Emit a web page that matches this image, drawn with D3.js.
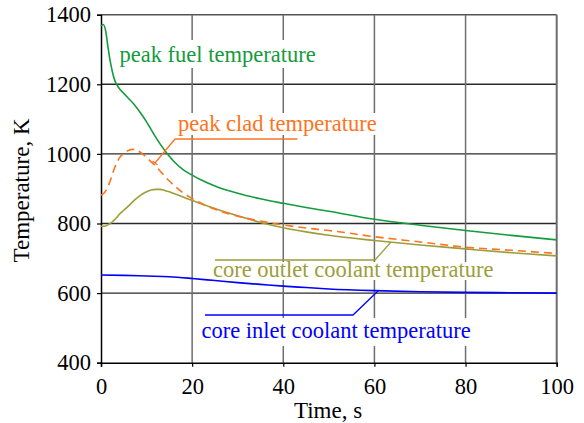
<!DOCTYPE html>
<html>
<head>
<meta charset="utf-8">
<script src="https://cdn.jsdelivr.net/npm/d3@7"></script>
<style>
  html, body { margin: 0; padding: 0; background: #fff; }
  svg { display: block; }
  svg text { font-family: 'Liberation Serif', 'Times New Roman', Times, serif !important; }
</style>
</head>
<body>
<svg id="chart" width="584" height="423"></svg>
<script>
// Transient temperatures (K) vs. time (s)
const time = [0, 0.5, 1, 1.5, 2, 2.5, 3, 3.5, 4, 5, 6, 7, 8, 9, 10, 11, 12, 13, 14, 15, 16, 18, 20, 22, 25, 30, 35, 40, 45, 50, 60, 70, 80, 90, 100];
const peakFuel = [1368, 1372, 1355, 1310, 1268, 1236, 1212, 1198, 1188, 1174, 1160, 1146, 1130, 1112, 1092, 1070, 1048, 1028, 1010, 993, 978, 955, 939, 925, 908, 887, 871, 858, 846, 835, 812, 795, 780, 766, 753];
const peakClad = [882, 885, 893, 905, 922, 942, 960, 975, 988, 1001, 1010, 1013, 1010, 1001, 990, 977, 965, 950, 936, 922, 910, 888, 872, 858, 841, 821, 807, 796, 787, 780, 762, 747, 732, 723, 714];
const coreOutlet = [792, 792, 793, 796, 800, 805, 811, 818, 826, 838, 850, 863, 874, 884, 891, 896, 898, 898, 895, 891, 886, 876, 866, 857, 843, 822, 803, 788, 776, 766, 751, 738, 727, 716, 707];
const inletTime = [0, 5, 10, 15, 20, 25, 30, 35, 40, 45, 50, 60, 70, 80, 90, 100];
const coreInlet = [652, 651, 649, 647, 642, 636, 630, 625, 620, 616, 612, 607, 604, 602, 601, 600];

const xTicks = [0, 20, 40, 60, 80, 100];
const yTicks = [400, 600, 800, 1000, 1200, 1400];

const svg = d3.select("#chart");
const plotLeft = 101, plotRight = 556.7, plotTop = 14.7, plotBottom = 362.7;
const fs = 22.5;
const serif = "'Liberation Serif', 'Times New Roman', Times, serif";

const x = d3.scaleLinear().domain([0, 100]).range([plotLeft, plotRight]);
const y = d3.scaleLinear().domain([400, 1400]).range([plotBottom, plotTop]);

// grid
const grid = svg.append("g");
grid.selectAll("line.h").data(yTicks.filter(v => v > 400)).join("line")
  .attr("class", "h")
  .attr("x1", plotLeft).attr("x2", plotRight)
  .attr("y1", d => y(d)).attr("y2", d => y(d))
  .attr("stroke", d => d === 1400 ? "#555" : "#2a2a2a").attr("stroke-width", 1.4);
grid.selectAll("line.v").data(xTicks.filter(v => v > 0)).join("line")
  .attr("class", "v")
  .attr("x1", d => x(d)).attr("x2", d => x(d))
  .attr("y1", plotTop).attr("y2", plotBottom)
  .attr("stroke", "#6e6e6e").attr("stroke-width", d => d === 100 ? 2 : 1.5);

// label boxes knock out the grid behind the text
const boxes = [
  [117, 40, 201, 28],
  [176, 113, 202, 22],
  [211, 262, 284, 18],
  [199, 318, 274, 28]
];
svg.append("g").selectAll("rect").data(boxes).join("rect")
  .attr("x", d => d[0]).attr("y", d => d[1])
  .attr("width", d => d[2]).attr("height", d => d[3])
  .attr("fill", "#fff");

// axes
const yAxis = svg.append("g").attr("transform", `translate(${plotLeft},0)`)
  .call(d3.axisLeft(y).tickValues(yTicks).tickSize(4).tickPadding(6).tickFormat(d3.format("d")));
const xAxis = svg.append("g").attr("transform", `translate(0,${plotBottom})`)
  .call(d3.axisBottom(x).tickValues(xTicks).tickSize(4).tickPadding(11).tickFormat(d3.format("d")));
[yAxis, xAxis].forEach(g => {
  g.attr("font-family", null).attr("font-size", null);
  g.selectAll("path.domain").attr("stroke", "#000").attr("stroke-width", 1.5);
  g.selectAll(".tick line").attr("stroke", "#000").attr("stroke-width", 1.2);
  g.selectAll("text").style("font-family", serif).style("font-size", fs + "px").attr("fill", "#000");
});

// axis titles
svg.append("text").attr("x", 328).attr("y", 417.5).attr("text-anchor", "middle")
  .style("font-family", serif).style("font-size", "23px").text("Time, s");
svg.append("text").attr("transform", "translate(29,190.5) rotate(-90)")
  .attr("text-anchor", "middle")
  .style("font-family", serif).style("font-size", "23px").text("Temperature, K");

// curves
const line = d3.line().x(d => x(d[0])).y(d => y(d[1])).curve(d3.curveMonotoneX);
const series = [
  { t: inletTime, v: coreInlet, color: "#0000ff", dash: null },
  { t: time, v: coreOutlet, color: "#9d9d3a", dash: null },
  { t: time, v: peakClad, color: "#ff7320", dash: "8,5" },
  { t: time, v: peakFuel, color: "#149b3c", dash: null }
];
svg.append("g").selectAll("path").data(series).join("path")
  .attr("d", s => line(s.t.map((t, i) => [t, s.v[i]])))
  .attr("fill", "none")
  .attr("stroke", s => s.color)
  .attr("stroke-width", 1.6)
  .attr("stroke-dasharray", s => s.dash);

// labels with leaders
const labels = [
  { text: "peak fuel temperature", x: 119.5, y: 61.5, color: "#149b3c", leader: null },
  { text: "peak clad temperature", x: 178, y: 131, color: "#ff7320",
    leader: [[297.5, 139], [175, 139], [155, 163]], cap: true },
  { text: "core outlet coolant temperature", x: 213, y: 277, color: "#9d9d3a",
    leader: [[215, 260], [375, 260], [391, 242]] },
  { text: "core inlet coolant temperature", x: 201.5, y: 338, color: "#0000ff",
    leader: [[205, 315], [353, 315], [378, 291]] }
];
const lg = svg.append("g");
labels.forEach(l => {
  lg.append("text").attr("x", l.x).attr("y", l.y)
    .style("font-family", serif).style("font-size", fs + "px")
    .attr("fill", l.color).text(l.text);
  if (l.leader) {
    lg.append("path").attr("d", d3.line()(l.leader)).attr("fill", "none")
      .attr("stroke", l.color).attr("stroke-width", 1.3);
    if (l.cap) {
      const [a, b] = l.leader.slice(-2);
      const dx = b[0] - a[0], dy = b[1] - a[1], n = Math.hypot(dx, dy);
      const px = -dy / n * 3.2, py = dx / n * 3.2;
      lg.append("line").attr("x1", b[0] - px).attr("y1", b[1] - py)
        .attr("x2", b[0] + px).attr("y2", b[1] + py)
        .attr("stroke", l.color).attr("stroke-width", 1.3);
    }
  }
});
</script>
</body>
</html>
